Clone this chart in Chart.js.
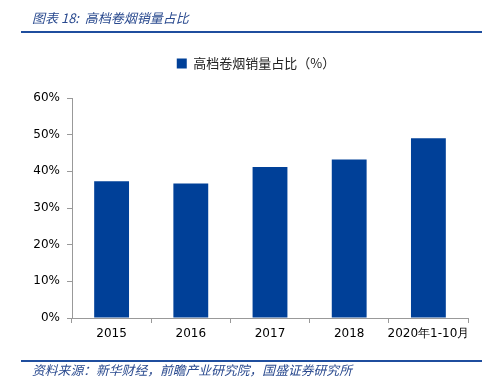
<!DOCTYPE html>
<html>
<head>
<meta charset="utf-8">
<script src="https://cdn.jsdelivr.net/npm/chart.js@4"></script>
<style>
  body { margin: 0; width: 490px; height: 389px; background: #fff; position: relative; overflow: hidden; }
  #wrap { position: absolute; left: 0; top: 0; width: 490px; height: 389px; }
  .title { position: absolute; left: 32px; top: 8px; font: italic 13px "Noto Sans CJK SC", sans-serif; color: #2a4a8f; }
  .rule { position: absolute; left: 21px; width: 461px; height: 2px; background: #1f4e9e; }
  .source { position: absolute; left: 32px; top: 360px; font: italic 12.8px "Noto Sans CJK SC", sans-serif; color: #2a4a8f; }
</style>
</head>
<body>
<div id="wrap"><canvas id="grafico"></canvas></div>
<div class="title">图表 18:&nbsp; 高档卷烟销量占比</div>
<div class="rule" style="top:31px"></div>
<div class="rule" style="top:360px"></div>
<div class="source">资料来源：新华财经，前瞻产业研究院，国盛证券研究所</div>
<script>
const categorias = ["2015", "2016", "2017", "2018", "2020年1-10月"];

const valores = [37.3, 36.7, 41.2, 43.2, 49.0];

const nomeSerie = "高档卷烟销量占比（%）";

const ctx = document.getElementById("grafico");

// espaco extra entre legenda e grafico, e legenda um pouco a direita
const ajusteLegenda = {

  id: "ajusteLegenda",

  beforeInit(chart) {

    const fitOriginal = chart.legend.fit;

    chart.legend.fit = function () {

      fitOriginal.bind(chart.legend)();

      this.height += 18;
    };
  },

  afterLayout(chart) {

    chart.legend.left += 22;

    chart.legend.right += 22;
  }
};

const grafico = new Chart(ctx, {

  type: "bar",

  data: {

    labels: categorias,

    datasets: [{

      label: nomeSerie,

      data: valores,

      backgroundColor: "#004098",

      categoryPercentage: 0.44,

      barPercentage: 1
    }]
  },

  plugins: [ajusteLegenda],

  options: {

    responsive: true,

    maintainAspectRatio: false,

    animation: false,

    layout: {

      padding: { top: 39, right: 22, bottom: 22, left: 0 }
    },

    plugins: {

      legend: {

        labels: {

          boxWidth: 10,

          boxHeight: 10,

          padding: 18,

          color: "#222",

          font: { family: "Noto Sans CJK SC", size: 13 }
        }
      },

      tooltip: { enabled: false }
    },

    scales: {

      x: {

        grid: { drawOnChartArea: false, color: "#999", tickLength: 5 },

        border: { color: "#999" },

        ticks: {

          color: "#000",

          font: { family: "DejaVu Sans", size: 12 },

          padding: 4,

          maxRotation: 0,

          autoSkip: false
        },

        afterFit: (s) => { s.height = 49; }
      },

      y: {

        min: 0,

        max: 60,

        grid: { drawOnChartArea: false, color: "#999", tickLength: 5 },

        border: { color: "#999" },

        ticks: {

          stepSize: 10,

          color: "#000",

          padding: 7,

          font: { family: "DejaVu Sans", size: 12 },

          callback: v => v + "%"
        },

        afterFit: (s) => { s.width = 72; }
      }
    }
  }
});
</script>
</body>
</html>
